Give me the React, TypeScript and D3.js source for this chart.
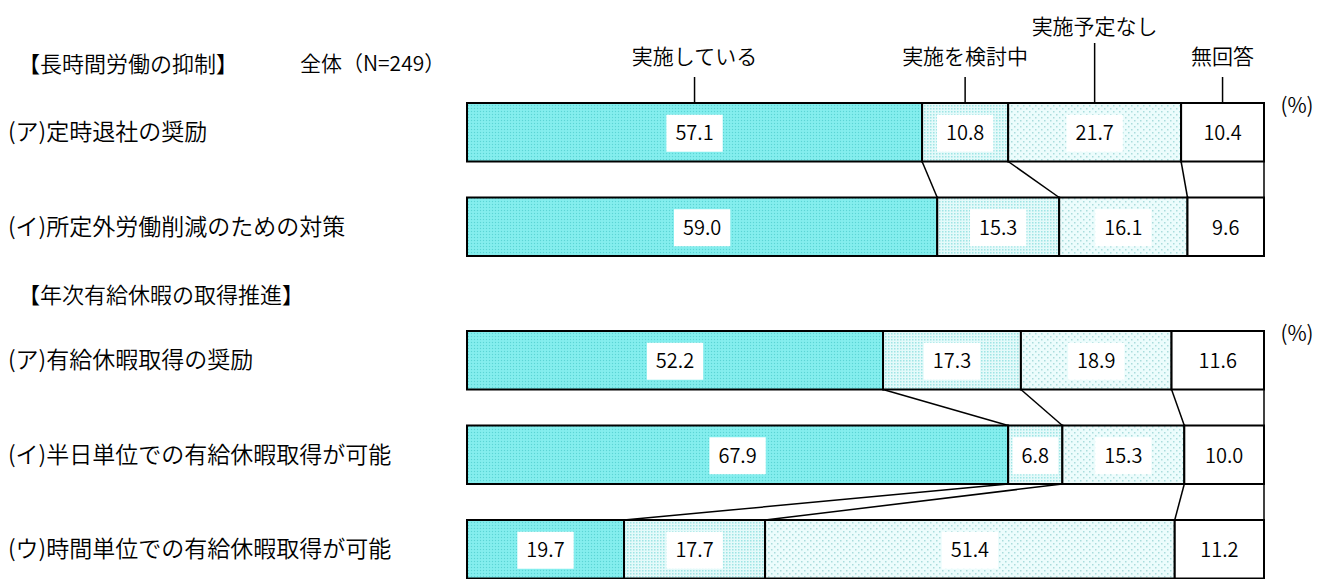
import React, { useEffect, useRef } from 'react';
import * as d3 from 'd3';

const seriesNames = ['実施している', '実施を検討中', '実施予定なし', '無回答'];
const section1Title = '【長時間労働の抑制】';
const section2Title = '【年次有給休暇の取得推進】';
const sampleNote = '全体（N=249）';
const unitLabel = '(%)';
const section1Categories = ['(ア)定時退社の奨励', '(イ)所定外労働削減のための対策'];
const section1Values = [
  [57.1, 10.8, 21.7, 10.4],
  [59.0, 15.3, 16.1, 9.6],
];
const section2Categories = ['(ア)有給休暇取得の奨励', '(イ)半日単位での有給休暇取得が可能', '(ウ)時間単位での有給休暇取得が可能'];
const section2Values = [
  [52.2, 17.3, 18.9, 11.6],
  [67.9, 6.8, 15.3, 10.0],
  [19.7, 17.7, 51.4, 11.2],
];

const W = 1320;
const H = 579;
const FONT = '"Noto Sans CJK JP", "Noto Sans", sans-serif';
const WEIGHT = 350;

export default function App() {
  const ref = useRef<SVGSVGElement | null>(null);

  useEffect(() => {
    const svg = d3.select(ref.current);
    svg.selectAll('*').remove();

    const defs = svg.append('defs');
    const p0 = defs.append('pattern').attr('id', 'pat0').attr('patternUnits', 'userSpaceOnUse').attr('width', 3).attr('height', 3);
    p0.append('rect').attr('width', 3).attr('height', 3).attr('fill', '#80ecec');
    p0.append('rect').attr('x', 0).attr('y', 0).attr('width', 1).attr('height', 1).attr('fill', '#5cd4d4');
    p0.append('rect').attr('x', 1.5).attr('y', 1.5).attr('width', 1).attr('height', 1).attr('fill', '#96f4f4');
    const p1 = defs.append('pattern').attr('id', 'pat1').attr('patternUnits', 'userSpaceOnUse').attr('width', 3).attr('height', 3);
    p1.append('rect').attr('width', 3).attr('height', 3).attr('fill', '#e4fafa');
    p1.append('rect').attr('x', 0).attr('y', 0).attr('width', 1.5).attr('height', 1.5).attr('fill', '#9ee4e4');
    const p2 = defs.append('pattern').attr('id', 'pat2').attr('patternUnits', 'userSpaceOnUse').attr('width', 6).attr('height', 6);
    p2.append('rect').attr('width', 6).attr('height', 6).attr('fill', '#ecfcfc');
    p2.append('rect').attr('x', 0).attr('y', 0).attr('width', 1.5).attr('height', 1.5).attr('fill', '#aadcdc');
    p2.append('rect').attr('x', 3).attr('y', 3).attr('width', 1.5).attr('height', 1.5).attr('fill', '#aadcdc');

    const fills = ['url(#pat0)', 'url(#pat1)', 'url(#pat2)', '#ffffff'];

    const x = d3.scaleLinear().domain([0, 100]).range([467, 1264]);
    const barH = 58.5;

    const sections = [
      { title: section1Title, cats: section1Categories, vals: section1Values, y: d3.scaleLinear().domain([0, 1]).range([103, 197.5]), titleY: 64 },
      { title: section2Title, cats: section2Categories, vals: section2Values, y: d3.scaleLinear().domain([0, 1]).range([331, 425.5]), titleY: 295 },
    ];

    const g = svg.append('g').attr('font-family', FONT).attr('font-weight', WEIGHT).attr('fill', '#000');

    sections.forEach((sec, si) => {
      g.append('text').attr('x', 18).attr('y', sec.titleY).attr('dy', '0.35em')
        .attr('font-size', 22).text(sec.title);
      g.append('text').attr('x', 1297).attr('y', sec.y(0) + 3).attr('dy', '0.35em').attr('text-anchor', 'middle')
        .attr('font-size', 21).text(unitLabel);

      const stacks = sec.vals.map((row) => {
        let acc = 0;
        return row.map((v) => {
          const s = acc;
          acc += v;
          return [s, acc];
        });
      });

      for (let r = 0; r < stacks.length - 1; r++) {
        for (let k = 0; k < 4; k++) {
          g.append('line')
            .attr('x1', x(stacks[r][k][1])).attr('y1', sec.y(r) + barH)
            .attr('x2', x(stacks[r + 1][k][1])).attr('y2', sec.y(r + 1))
            .attr('stroke', '#000').attr('stroke-width', 1.5);
        }
      }

      stacks.forEach((row, r) => {
        const y0 = sec.y(r);
        g.append('text').attr('x', 8).attr('y', y0 + barH / 2).attr('dy', '0.35em')
          .attr('font-size', 23).text(sec.cats[r]);
        row.forEach((seg, k) => {
          g.append('rect').attr('x', x(seg[0])).attr('y', y0).attr('width', x(seg[1]) - x(seg[0])).attr('height', barH)
            .attr('fill', fills[k]).attr('stroke', '#000').attr('stroke-width', 2);
        });
        row.forEach((seg, k) => {
          const cx = (x(seg[0]) + x(seg[1])) / 2;
          const cy = y0 + barH / 2 + 1;
          const lg = g.append('g');
          const rect = lg.append('rect').attr('fill', '#fff');
          const t = lg.append('text').attr('x', cx).attr('y', cy).attr('dy', '0.36em').attr('text-anchor', 'middle')
            .attr('font-size', 20).text(sec.vals[r][k].toFixed(1));
          const bb = (t.node() as SVGTextElement).getBBox();
          const w = bb.width + 18;
          rect.attr('x', cx - w / 2).attr('y', cy - 18.5).attr('width', w).attr('height', 37);
        });
      });

      if (si === 0) {
        g.append('text').attr('x', 300).attr('y', sec.titleY).attr('dy', '0.35em')
          .attr('font-size', 21).text(sampleNote);
        stacks[0].forEach((seg, k) => {
          const cx = (x(seg[0]) + x(seg[1])) / 2;
          const high = k === 2;
          const ly = high ? 27 : 57;
          g.append('text').attr('x', cx).attr('y', ly).attr('dy', '0.35em').attr('text-anchor', 'middle')
            .attr('font-size', 21).text(seriesNames[k]);
          g.append('line').attr('x1', cx).attr('x2', cx).attr('y1', high ? 43 : 77).attr('y2', sec.y(0))
            .attr('stroke', '#000').attr('stroke-width', 1.5);
        });
      }
    });
  }, []);

  return (
    <svg ref={ref} width={W} height={H} style={{ display: 'block', position: 'absolute', left: 0, top: 0 }} />
  );
}
